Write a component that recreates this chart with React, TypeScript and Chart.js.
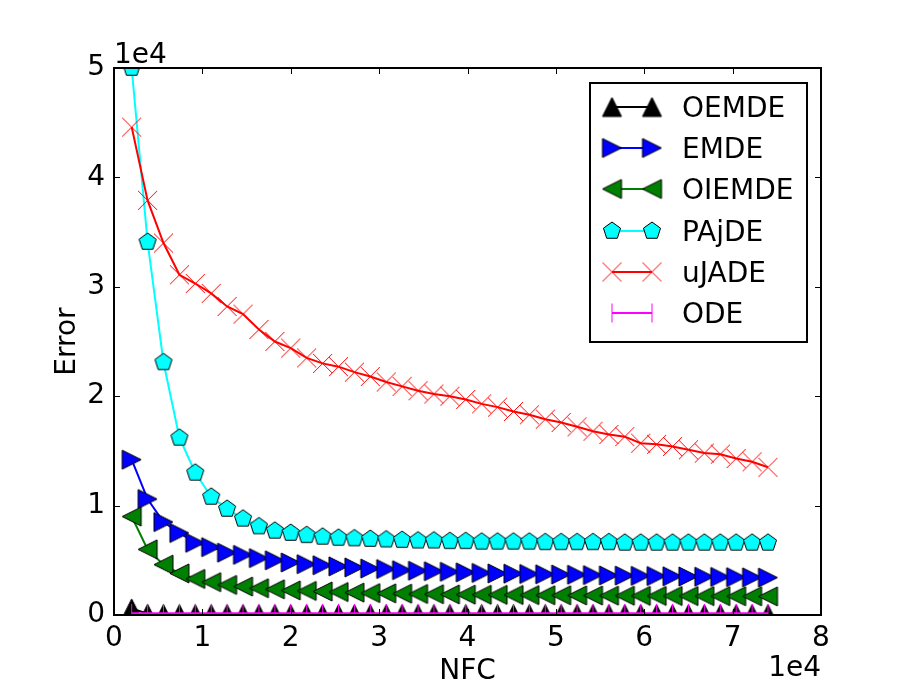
import React, { useEffect, useRef } from "react";
import { Chart, registerables } from "chart.js";
Chart.register(...registerables);

const NFC = [2000, 3800, 5600, 7400, 9200, 11000, 12800, 14600, 16400, 18200, 20000, 21800, 23600, 25400, 27200, 29000, 30800, 32600, 34400, 36200, 38000, 39800, 41600, 43400, 45200, 47000, 48800, 50600, 52400, 54200, 56000, 57800, 59600, 61400, 63200, 65000, 66800, 68600, 70400, 72200, 74000];

const OEMDE = [600, 120, 100, 90, 80, 80, 80, 80, 80, 80, 80, 80, 80, 80, 80, 80, 80, 80, 80, 80, 80, 80, 80, 80, 80, 80, 80, 80, 80, 80, 80, 80, 80, 80, 80, 80, 80, 80, 80, 80, 80];
const EMDE = [14200, 10600, 8500, 7500, 6600, 6200, 5700, 5500, 5200, 5000, 4800, 4650, 4550, 4450, 4350, 4250, 4200, 4100, 4050, 4000, 3950, 3900, 3850, 3800, 3780, 3750, 3720, 3700, 3680, 3650, 3620, 3600, 3580, 3560, 3540, 3520, 3500, 3480, 3460, 3440, 3420];
const OIEMDE = [9000, 6000, 4600, 3800, 3300, 3000, 2750, 2600, 2450, 2350, 2250, 2200, 2150, 2100, 2050, 2000, 1980, 1950, 1920, 1900, 1880, 1860, 1850, 1840, 1830, 1820, 1810, 1800, 1790, 1780, 1770, 1760, 1750, 1745, 1740, 1735, 1730, 1720, 1715, 1710, 1700];
const PAjDE = [50000, 34100, 23100, 16200, 13000, 10800, 9700, 8800, 8100, 7700, 7500, 7300, 7150, 7050, 7000, 6950, 6900, 6850, 6800, 6800, 6750, 6750, 6700, 6700, 6700, 6700, 6650, 6650, 6650, 6650, 6650, 6600, 6600, 6600, 6600, 6600, 6600, 6600, 6600, 6600, 6600];
const uJADE = [44600, 37900, 34000, 31100, 30300, 29400, 28200, 27500, 26100, 25000, 24400, 23500, 23000, 22700, 22200, 21800, 21300, 20900, 20500, 20200, 20000, 19700, 19300, 19000, 18600, 18300, 17900, 17600, 17200, 16800, 16500, 16300, 15700, 15600, 15400, 15100, 14800, 14700, 14300, 14000, 13500];
const ODE = [150, 150, 150, 150, 150, 150, 150, 150, 150, 150, 150, 150, 150, 150, 150, 150, 150, 150, 150, 150, 150, 150, 150, 150, 150, 150, 150, 150, 150, 150, 150, 150, 150, 150, 150, 150, 150, 150, 150, 150, 150];

const X_TICKS = [0, 1, 2, 3, 4, 5, 6, 7, 8];
const Y_TICKS = [0, 1, 2, 3, 4, 5];
const SCALE = 10000;

const FONT = "'DejaVu Sans', sans-serif";
const FS = 28;

type Kind = "up" | "right" | "left" | "pent" | "x" | "vline";

function makeMarker(kind: Kind, fill: string, stroke: string, size: number): HTMLCanvasElement {
  const S = Math.ceil(size) + 6;
  const c = document.createElement("canvas");
  c.width = S;
  c.height = S;
  const g = c.getContext("2d")!;
  const h = size / 2;
  const cx = S / 2;
  const cy = S / 2;
  g.lineWidth = 1;
  g.strokeStyle = stroke;
  g.fillStyle = fill;
  g.beginPath();
  if (kind === "up") {
    g.moveTo(cx, cy - h);
    g.lineTo(cx - h, cy + h);
    g.lineTo(cx + h, cy + h);
    g.closePath();
    g.fill();
    g.stroke();
  } else if (kind === "right") {
    g.moveTo(cx + h, cy);
    g.lineTo(cx - h, cy - h);
    g.lineTo(cx - h, cy + h);
    g.closePath();
    g.fill();
    g.stroke();
  } else if (kind === "left") {
    g.moveTo(cx - h, cy);
    g.lineTo(cx + h, cy - h);
    g.lineTo(cx + h, cy + h);
    g.closePath();
    g.fill();
    g.stroke();
  } else if (kind === "pent") {
    for (let k = 0; k < 5; k++) {
      const a = ((-90 + 72 * k) * Math.PI) / 180;
      const px = cx + h * Math.cos(a);
      const py = cy + h * Math.sin(a);
      if (k === 0) g.moveTo(px, py);
      else g.lineTo(px, py);
    }
    g.closePath();
    g.fill();
    g.stroke();
  } else if (kind === "x") {
    g.moveTo(cx - h, cy - h);
    g.lineTo(cx + h, cy + h);
    g.moveTo(cx + h, cy - h);
    g.lineTo(cx - h, cy + h);
    g.stroke();
  } else if (kind === "vline") {
    g.moveTo(cx, cy - h);
    g.lineTo(cx, cy + h);
    g.stroke();
  }
  return c;
}

const SERIES = [
  { label: "OEMDE", values: OEMDE, color: "#000000", kind: "up" as Kind, fill: "#000000", edge: "#000000", size: 19 },
  { label: "EMDE", values: EMDE, color: "#0000ff", kind: "right" as Kind, fill: "#0000ff", edge: "#000000", size: 19 },
  { label: "OIEMDE", values: OIEMDE, color: "#008000", kind: "left" as Kind, fill: "#008000", edge: "#000000", size: 19 },
  { label: "PAjDE", values: PAjDE, color: "#00ffff", kind: "pent" as Kind, fill: "#00ffff", edge: "#000000", size: 18 },
  { label: "uJADE", values: uJADE, color: "#ff0000", kind: "x" as Kind, fill: "#ff0000", edge: "#ff0000", size: 19 },
  { label: "ODE", values: ODE, color: "#ff00ff", kind: "vline" as Kind, fill: "#ff00ff", edge: "#ff00ff", size: 19 },
];

export default function App() {
  const ref = useRef<HTMLCanvasElement>(null);
  useEffect(() => {
    const canvas = ref.current!;
    const markers = SERIES.map((s) => makeMarker(s.kind, s.fill, s.edge, s.size));

    const framePlugin = {
      id: "mplFrame",
      afterDraw(chart: any) {
        const ctx = chart.ctx as CanvasRenderingContext2D;
        const a = chart.chartArea;
        const xs = chart.scales.x;
        const ys = chart.scales.y;
        ctx.save();
        ctx.strokeStyle = "#000";
        ctx.lineWidth = 1;
        const TL = 6;
        ctx.beginPath();
        for (const t of X_TICKS) {
          const px = Math.round(xs.getPixelForValue(t * SCALE)) + 0.5;
          ctx.moveTo(px, a.bottom);
          ctx.lineTo(px, a.bottom - TL);
          ctx.moveTo(px, a.top);
          ctx.lineTo(px, a.top + TL);
        }
        for (const t of Y_TICKS) {
          const py = Math.round(ys.getPixelForValue(t * SCALE)) + 0.5;
          ctx.moveTo(a.left, py);
          ctx.lineTo(a.left + TL, py);
          ctx.moveTo(a.right, py);
          ctx.lineTo(a.right - TL, py);
        }
        ctx.stroke();
        ctx.lineWidth = 2;
        ctx.strokeRect(a.left, a.top, a.right - a.left, a.bottom - a.top);

        ctx.fillStyle = "#000";
        ctx.font = `${FS}px ${FONT}`;
        ctx.textAlign = "left";
        ctx.textBaseline = "alphabetic";
        ctx.fillText("1e4", a.left, a.top - 5);
        ctx.textAlign = "right";
        ctx.fillText("1e4", a.right, 676);
        ctx.textAlign = "center";
        ctx.fillText("NFC", (a.left + a.right) / 2, 679);
        ctx.save();
        ctx.translate(75, (a.top + a.bottom) / 2);
        ctx.rotate(-Math.PI / 2);
        ctx.fillText("Error", 0, 0);
        ctx.restore();

        const bw = 217;
        const bh = 259;
        const bx = a.right - 231;
        const by = a.top + 15;
        ctx.fillStyle = "#fff";
        ctx.fillRect(bx, by, bw, bh);
        ctx.lineWidth = 2;
        ctx.strokeStyle = "#000";
        ctx.strokeRect(bx, by, bw, bh);
        SERIES.forEach((s, i) => {
          const ry = Math.round(by + 24 + i * 41.2);
          const x1 = bx + 22;
          const x2 = bx + 62;
          ctx.strokeStyle = s.color;
          ctx.lineWidth = 2;
          ctx.beginPath();
          ctx.moveTo(x1, ry);
          ctx.lineTo(x2, ry);
          ctx.stroke();
          const m = markers[i];
          ctx.drawImage(m, x1 - m.width / 2, ry - m.height / 2);
          ctx.drawImage(m, x2 - m.width / 2, ry - m.height / 2);
          ctx.fillStyle = "#000";
          ctx.textAlign = "left";
          ctx.textBaseline = "alphabetic";
          ctx.font = `${FS}px ${FONT}`;
          ctx.fillText(s.label, bx + 92, ry + 10);
        });
        ctx.restore();
      },
    };

    const chart = new Chart(canvas, {
      type: "line",
      data: {
        datasets: SERIES.map((s, i) => ({
          label: s.label,
          data: NFC.map((x, j) => ({ x, y: s.values[j] })),
          borderColor: s.color,
          backgroundColor: s.fill,
          borderWidth: 2,
          pointStyle: markers[i] as any,
          pointRadius: 9,
          pointHoverRadius: 9,
          fill: false,
          tension: 0,
          order: SERIES.length - 1 - i,
        })),
      },
      options: {
        animation: false,
        responsive: false,
        maintainAspectRatio: false,
        layout: { padding: { top: 68, right: 92, left: 0, bottom: 0 } },
        plugins: { legend: { display: false }, tooltip: { enabled: false } },
        scales: {
          x: {
            type: "linear",
            min: 0,
            max: 80000,
            afterBuildTicks: (scale: any) => {
              scale.ticks = X_TICKS.map((v) => ({ value: v * SCALE }));
            },
            ticks: {
              callback: (v: any) => String(Number(v) / SCALE),
              font: { family: FONT, size: FS },
              color: "#000",
              padding: 7,
              maxRotation: 0,
              autoSkip: false,
            },
            grid: { display: false, drawTicks: false },
            border: { display: false },
            afterFit: (scale: any) => {
              scale.height = 70;
            },
          },
          y: {
            type: "linear",
            min: 0,
            max: 50000,
            afterBuildTicks: (scale: any) => {
              scale.ticks = Y_TICKS.map((v) => ({ value: v * SCALE }));
            },
            ticks: {
              callback: (v: any) => String(Number(v) / SCALE),
              font: { family: FONT, size: FS },
              color: "#000",
              padding: 9,
              autoSkip: false,
            },
            grid: { display: false, drawTicks: false },
            border: { display: false },
            afterFit: (scale: any) => {
              scale.width = 114;
            },
          },
        },
      },
      plugins: [framePlugin],
    });
    return () => chart.destroy();
  }, []);

  return (
    <div style={{ position: "fixed", left: 0, top: 0, width: 913, height: 685, background: "#fff" }}>
      <canvas ref={ref} width={913} height={685} style={{ width: 913, height: 685, display: "block" }} />
    </div>
  );
}
